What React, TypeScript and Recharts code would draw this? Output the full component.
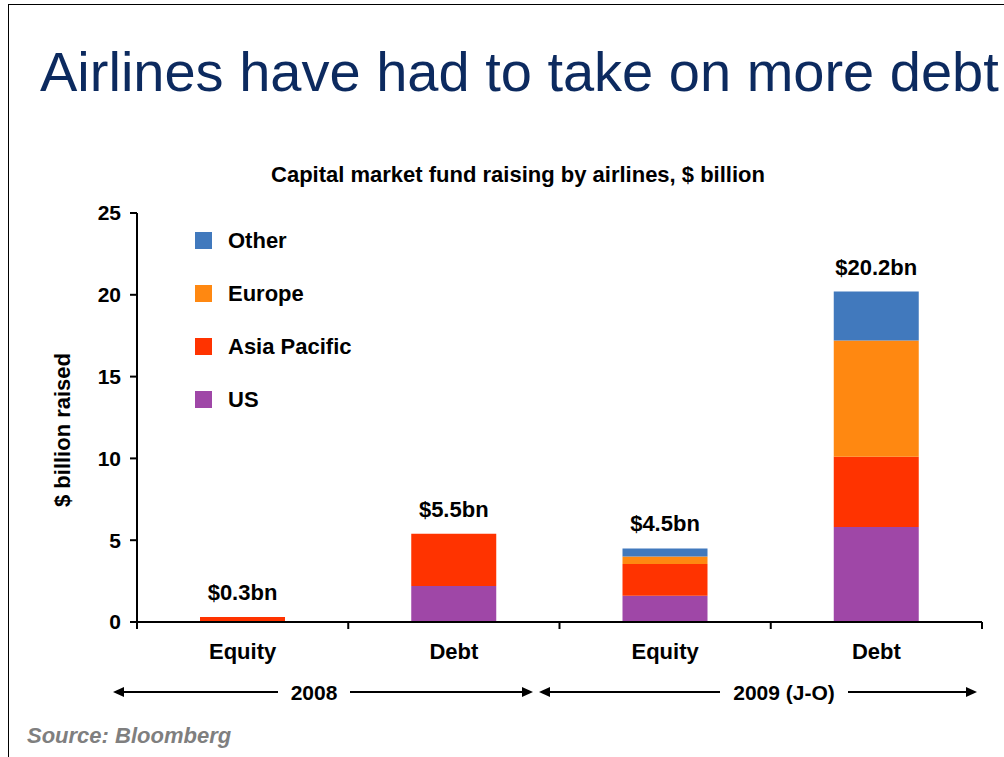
import { BarChart, Bar, XAxis, YAxis, Legend, LabelList } from 'recharts';

const categories = ['Equity', 'Debt', 'Equity', 'Debt'];
const usValues = [0, 2.2, 1.6, 5.8];
const asiaPacificValues = [0.3, 3.2, 1.95, 4.3];
const europeValues = [0, 0, 0.45, 7.1];
const otherValues = [0, 0, 0.5, 3.0];
const totalLabels = ['$0.3bn', '$5.5bn', '$4.5bn', '$20.2bn'];
const yTicks = [0, 5, 10, 15, 20, 25];
const periods = [
  { label: '2008', from: 113, to: 533, textX: 314, halfText: 30 },
  { label: '2009 (J-O)', from: 539, to: 977, textX: 784, halfText: 58 },
];
const legendOrder = ['Other', 'Europe', 'Asia Pacific', 'US'];
const stackOrder = ['us', 'asia', 'europe', 'other'];

const COLORS = {
  us: '#9f47a7',
  asia: '#ff3300',
  europe: '#ff8811',
  other: '#4179bd',
};

const W = 1004;
const H = 757;
const MARGIN = { top: 213, right: 22, bottom: 95, left: 77 };
const Y_AXIS_W = 60;
const HALF_BAND = (W - MARGIN.left - Y_AXIS_W - MARGIN.right) / categories.length / 2;
const FONT = '"Liberation Sans", Arial, Helvetica, sans-serif';

const data = categories.map((category, i) => ({
  category,
  us: usValues[i],
  asia: asiaPacificValues[i],
  europe: europeValues[i],
  other: otherValues[i],
  total: totalLabels[i],
}));

// the total goes on top of the highest segment that is not empty
function topKey(row: any) {
  let key = stackOrder[0];
  stackOrder.forEach((k) => {
    if (row[k] > 0) key = k;
  });
  return key;
}

function CategoryTick(props: any) {
  const { x, y, payload, index } = props;
  return (
    <g>
      <line x1={x - HALF_BAND} x2={x - HALF_BAND} y1={y} y2={y + 7} stroke="#000" strokeWidth={2} />
      {index === categories.length - 1 && (
        <line x1={x + HALF_BAND} x2={x + HALF_BAND} y1={y} y2={y + 7} stroke="#000" strokeWidth={2} />
      )}
      <text x={x} y={y + 37} textAnchor="middle" fontSize={22} fontWeight={700} fill="#000">
        {payload.value}
      </text>
    </g>
  );
}

function makeTotalLabel(seriesKey: string) {
  return (props: any) => {
    const { x, y, width, value } = props;
    const row = data.find((r) => r.total === value);
    if (!row || topKey(row) !== seriesKey) return null;
    return (
      <text x={x + width / 2} y={y - 17} textAnchor="middle" fontSize={22} fontWeight={700} fill="#000">
        {row.total}
      </text>
    );
  };
}

function LegendBox(props: any) {
  const items = [...(props.payload || [])].sort(
    (a: any, b: any) => legendOrder.indexOf(a.value) - legendOrder.indexOf(b.value)
  );
  return (
    <div>
      {items.map((item: any) => (
        <div key={item.value} style={{ display: 'flex', alignItems: 'center', height: 17, marginBottom: 36 }}>
          <span style={{ width: 17, height: 17, background: item.color, display: 'inline-block', flexShrink: 0 }} />
          <span style={{ marginLeft: 16, fontSize: 22, fontWeight: 700, color: '#000', whiteSpace: 'nowrap' }}>{item.value}</span>
        </div>
      ))}
    </div>
  );
}

export default function App() {
  return (
    <div style={{ position: 'absolute', left: 0, top: 0, width: W, height: H, overflow: 'hidden', fontFamily: FONT, background: '#fff' }}>
      <div style={{ position: 'absolute', left: 8, top: 4, width: W - 8, height: H - 4, borderTop: '1px solid #000', borderLeft: '1px solid #000', boxSizing: 'border-box' }} />
      <div style={{ position: 'absolute', left: 40, top: 32, fontSize: 56, color: '#0c2a5f', whiteSpace: 'nowrap', lineHeight: '80px' }}>
        Airlines have had to take on more debt
      </div>
      <div style={{ position: 'absolute', left: 0, width: 1036, top: 161, textAlign: 'center', fontSize: 22, fontWeight: 700, color: '#000', lineHeight: '28px' }}>
        Capital market fund raising by airlines, $ billion
      </div>
      <div style={{ position: 'absolute', left: 0, top: 0 }}>
        <BarChart width={W} height={H} data={data} margin={MARGIN} barSize={85}>
          <XAxis
            dataKey="category"
            axisLine={{ stroke: '#000', strokeWidth: 2 }}
            tickLine={false}
            tickSize={0}
            tickMargin={0}
            height={40}
            tick={<CategoryTick />}
            interval={0}
          />
          <YAxis
            domain={[0, 25]}
            ticks={yTicks}
            width={Y_AXIS_W}
            axisLine={{ stroke: '#000', strokeWidth: 2 }}
            tickLine={{ stroke: '#000', strokeWidth: 2 }}
            tickSize={7}
            tickMargin={9}
            tick={{ fontSize: 21, fontWeight: 700, fill: '#000' }}
          />
          <Legend
            layout="vertical"
            align="center"
            verticalAlign="middle"
            content={<LegendBox />}
            wrapperStyle={{ left: 195, top: 232, width: 240, bottom: 'auto', right: 'auto' }}
          />
          <Bar dataKey="us" name="US" stackId="a" fill={COLORS.us} isAnimationActive={false}>
            <LabelList dataKey="total" content={makeTotalLabel('us')} />
          </Bar>
          <Bar dataKey="asia" name="Asia Pacific" stackId="a" fill={COLORS.asia} isAnimationActive={false}>
            <LabelList dataKey="total" content={makeTotalLabel('asia')} />
          </Bar>
          <Bar dataKey="europe" name="Europe" stackId="a" fill={COLORS.europe} isAnimationActive={false}>
            <LabelList dataKey="total" content={makeTotalLabel('europe')} />
          </Bar>
          <Bar dataKey="other" name="Other" stackId="a" fill={COLORS.other} isAnimationActive={false}>
            <LabelList dataKey="total" content={makeTotalLabel('other')} />
          </Bar>
        </BarChart>
      </div>
      <svg width={W} height={H} style={{ position: 'absolute', left: 0, top: 0, pointerEvents: 'none' }}>
        <text transform="translate(62,430) rotate(-90)" textAnchor="middle" dominantBaseline="central" fontSize={22} fontWeight={700} fill="#000">
          $ billion raised
        </text>
        {periods.map((p) => (
          <g key={p.label}>
            <line x1={p.from + 9} x2={p.textX - p.halfText - 6} y1={692} y2={692} stroke="#000" strokeWidth={2} />
            <line x1={p.textX + p.halfText + 6} x2={p.to - 9} y1={692} y2={692} stroke="#000" strokeWidth={2} />
            <polygon points={`${p.from},692 ${p.from + 11},687 ${p.from + 11},697`} fill="#000" />
            <polygon points={`${p.to},692 ${p.to - 11},687 ${p.to - 11},697`} fill="#000" />
            <text x={p.textX} y={700} textAnchor="middle" fontSize={21} fontWeight={700} fill="#000">
              {p.label}
            </text>
          </g>
        ))}
      </svg>
      <div style={{ position: 'absolute', left: 27, top: 723, fontSize: 22, fontWeight: 700, fontStyle: 'italic', color: '#7f7f7f' }}>
        Source: Bloomberg
      </div>
    </div>
  );
}
